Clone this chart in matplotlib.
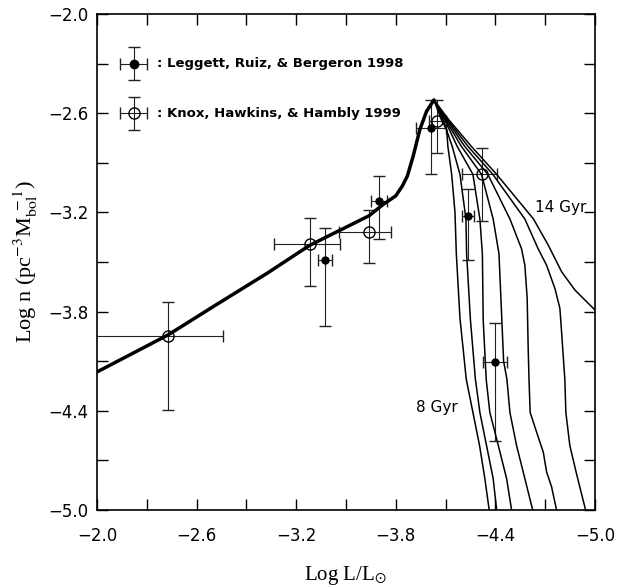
import matplotlib
matplotlib.use("Agg")
import matplotlib.pyplot as plt

plt.rcParams["mathtext.fontset"] = "stix"

# ---- data ----
tick_vals = [-2.0, -2.6, -3.2, -3.8, -4.4, -5.0]
minor_vals = [-2.3, -2.9, -3.5, -4.1, -4.7]

# common (thick) luminosity function up to the peak
thick_x = [-2.0, -2.43, -2.70, -3.03, -3.28, -3.46, -3.64, -3.72, -3.80,
           -3.84, -3.87, -3.905, -3.945, -3.985, -4.03]
thick_y = [-4.165, -3.94, -3.77, -3.565, -3.40, -3.31, -3.22, -3.155, -3.10,
           -3.04, -2.98, -2.86, -2.70, -2.59, -2.52]

# model curves after the peak, 8 .. 14 Gyr
c8_x = [-4.03, -4.075, -4.107, -4.114, -4.137, -4.157, -4.165, -4.187, -4.225,
        -4.265, -4.305, -4.337, -4.363]
c8_y = [-2.52, -2.64, -2.70, -2.80, -2.97, -3.20, -3.45, -3.84, -4.21,
        -4.41, -4.61, -4.81, -5.0]
c9_x = [-4.03, -4.085, -4.14, -4.187, -4.223, -4.227, -4.25, -4.28, -4.307,
        -4.347, -4.387, -4.408]
c9_y = [-2.52, -2.64, -2.80, -2.97, -3.24, -3.45, -3.85, -4.21, -4.41,
        -4.61, -4.81, -5.0]
c10_x = [-4.03, -4.095, -4.17, -4.265, -4.307, -4.322, -4.327, -4.345, -4.367,
         -4.418, -4.468, -4.498]
c10_y = [-2.52, -2.64, -2.80, -2.97, -3.24, -3.45, -3.85, -4.21, -4.41,
         -4.61, -4.81, -5.0]
c11_x = [-4.03, -4.10, -4.195, -4.317, -4.387, -4.422, -4.438, -4.45, -4.47,
         -4.488, -4.528, -4.578, -4.625]
c11_y = [-2.52, -2.64, -2.80, -2.97, -3.24, -3.45, -3.82, -4.10, -4.21,
         -4.41, -4.61, -4.81, -5.0]
c12_x = [-4.03, -4.107, -4.215, -4.355, -4.488, -4.558, -4.578, -4.592, -4.598,
         -4.603, -4.61, -4.649, -4.689, -4.709, -4.739, -4.769]
c12_y = [-2.52, -2.64, -2.80, -2.97, -3.24, -3.42, -3.52, -3.72, -4.02,
         -4.21, -4.41, -4.53, -4.65, -4.77, -4.86, -5.0]
c13_x = [-4.03, -4.113, -4.235, -4.385, -4.578, -4.658, -4.709, -4.759, -4.789,
         -4.799, -4.819, -4.825, -4.849, -4.889, -4.944]
c13_y = [-2.52, -2.64, -2.80, -2.97, -3.24, -3.42, -3.52, -3.66, -3.78,
         -3.92, -4.21, -4.41, -4.61, -4.78, -5.0]
c14_x = [-4.03, -4.12, -4.255, -4.408, -4.63, -4.72, -4.80, -4.88, -5.0]
c14_y = [-2.52, -2.64, -2.80, -2.97, -3.24, -3.40, -3.56, -3.67, -3.79]

# Leggett, Ruiz & Bergeron 1998 (filled)
leg_x = [-3.374, -3.698, -4.01, -4.238, -4.398]
leg_y = [-3.489, -3.13, -2.69, -3.221, -4.105]
leg_yup = [0.193, 0.152, 0.17, 0.163, 0.238]
leg_ydn = [0.396, 0.231, 0.28, 0.268, 0.476]
leg_xerr = [0.042, 0.048, 0.09, 0.036, 0.075]

# Knox, Hawkins & Hambly 1999 (open)
knox_x = [-2.429, -3.286, -3.636, -4.05, -4.317]
knox_y = [-3.949, -3.391, -3.32, -2.65, -2.967]
knox_yup = [0.204, 0.156, 0.132, 0.13, 0.158]
knox_ydn = [0.446, 0.256, 0.187, 0.19, 0.284]
knox_xplus = [0.45, 0.222, 0.175, 0.05, 0.115]   # towards brighter (left)
knox_xminus = [0.333, 0.178, 0.135, 0.05, 0.095]  # towards fainter (right)

fig = plt.figure(figsize=(6.2, 5.88), dpi=100)
ax = fig.add_axes([0.1565, 0.1327, 0.803, 0.8435])

ax.plot(thick_x, thick_y, color="black", lw=2.5, solid_capstyle="round", zorder=3)
for cx, cy in [(c8_x, c8_y), (c9_x, c9_y), (c10_x, c10_y), (c11_x, c11_y),
               (c12_x, c12_y), (c13_x, c13_y), (c14_x, c14_y)]:
    ax.plot(cx, cy, color="black", lw=1.1, zorder=3)

eb_kw = dict(fmt="none", ecolor="#222222", elinewidth=0.8, capsize=4.5, capthick=1.0)
ax.errorbar(leg_x, leg_y, yerr=[leg_ydn, leg_yup], xerr=leg_xerr, **eb_kw)
ax.errorbar(knox_x, knox_y, yerr=[knox_ydn, knox_yup],
            xerr=[knox_xminus, knox_xplus], **eb_kw)
ax.plot(leg_x, leg_y, "o", color="black", ms=5, zorder=5)
ax.plot(knox_x, knox_y, "o", mfc="none", mec="black", mew=1.0, ms=8, zorder=5)

# legend drawn as in the figure
ax.errorbar([-2.22], [-2.3], yerr=0.1, xerr=0.08, **eb_kw)
ax.plot([-2.22], [-2.3], "o", color="black", ms=6)
ax.errorbar([-2.22], [-2.6], yerr=0.1, xerr=0.08, **eb_kw)
ax.plot([-2.22], [-2.6], "o", mfc="none", mec="black", mew=1.0, ms=8)
ax.text(-2.36, -2.3, ": Leggett, Ruiz, & Bergeron 1998", fontsize=9.5,
        fontweight="bold", va="center", ha="left")
ax.text(-2.36, -2.6, ": Knox, Hawkins, & Hambly 1999", fontsize=9.5,
        fontweight="bold", va="center", ha="left")

ax.text(-4.64, -3.17, "14 Gyr", fontsize=11, va="center", ha="left")
ax.text(-3.92, -4.38, "8 Gyr", fontsize=11, va="center", ha="left")

ax.set_xlim(-2.0, -5.0)
ax.set_ylim(-5.0, -2.0)
ax.set_xticks(tick_vals)
ax.set_xticklabels([f"{v:.1f}".replace("-", "\u2212") for v in tick_vals])
ax.set_yticks(tick_vals)
ax.set_yticklabels([f"{v:.1f}".replace("-", "\u2212") for v in tick_vals])
ax.set_xticks(minor_vals, minor=True)
ax.set_yticks(minor_vals, minor=True)
ax.tick_params(which="both", direction="in", top=True, right=True,
               length=8, width=1.0, labelsize=12)
ax.tick_params(axis="x", which="major", pad=12)
ax.tick_params(axis="y", which="major", pad=6)
for sp in ax.spines.values():
    sp.set_linewidth(1.2)

ax.set_xlabel(r"Log L/L$_{\odot}$", fontsize=15, family="Liberation Serif", labelpad=14)
ax.set_ylabel(r"Log n (pc$^{-3}$M$_{\rm bol}^{\ -1}$)", fontsize=16,
              family="Liberation Serif", labelpad=6)

fig.savefig("out.png", dpi=100)
plt.close(fig)
